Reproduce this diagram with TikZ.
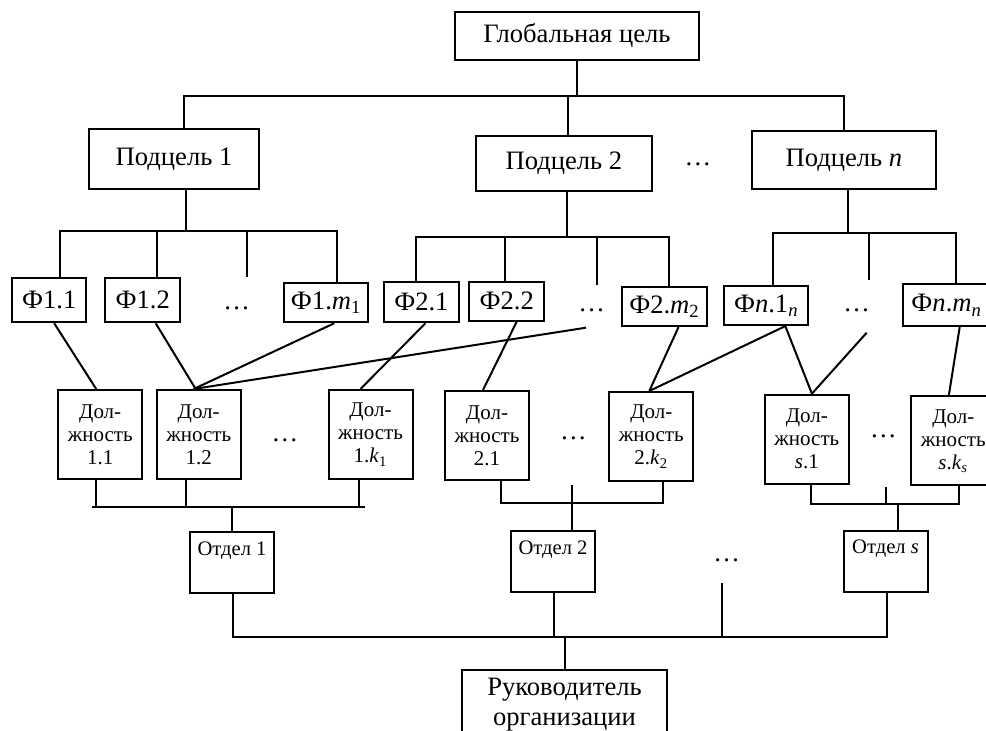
\documentclass[tikz,border=0pt]{standalone}
\usepackage{fontspec}
\setmainfont{Liberation Serif}
\usetikzlibrary{positioning, calc}
\tikzset{
  goalbox/.style={draw, inner sep=0pt, align=center, font=\fontsize{13.3}{15}\selectfont}, % goal and sub-goal boxes
  funcbox/.style={draw, inner sep=0pt, font=\fontsize{13.3}{15}\selectfont}, % functions
  postbox/.style={draw, inner sep=0pt, align=center, minimum width=42pt, minimum height=44.5pt, font=\fontsize{10.5}{11.5}\selectfont}, % posts
  deptbox/.style={draw, inner sep=0pt, minimum width=42pt, text height=11.5pt, text depth=19pt, font=\fontsize{10.3}{12}\selectfont}, % departments
  gap/.style={inner sep=0pt, font=\fontsize{13.3}{15}\selectfont}, % the dots
}

\begin{document}
\begin{tikzpicture}[x=0.5pt, y=-0.5pt, line width=1pt]
    \useasboundingbox (0,0) rectangle (986,731);
    \clip (0,0) rectangle (986,731);
    % goals
    \node[goalbox, minimum width=122.2pt, minimum height=23.8pt] (goal) at (576.9,35.8) {Глобальная цель};
    \node[goalbox, minimum width=85pt, minimum height=30pt] (sub1) at (174,159) {Подцель 1};
    \node[goalbox, minimum width=87.9pt, minimum height=27.5pt] (sub2) at (563.9,163.2) {Подцель 2};
    \node[goalbox, minimum width=92.2pt, minimum height=29.2pt] (subn) at (843.9,160.2) {Подцель \textit{n}};
    \node[gap] (subdots) at (698,164) {\dots};
    % functions
    \node[funcbox, minimum width=37.2pt, minimum height=22.3pt] (f11) at (49.2,300) {Ф1.1};
    \node[funcbox, minimum width=37.4pt, minimum height=22.3pt] (f12) at (142.7,300) {Ф1.2};
    \node[gap] (f1dots) at (236.7,308) {\dots};
    \node[funcbox, minimum width=41.9pt, minimum height=19.5pt] (f1m) at (326.2,302.8) {Ф1.\textit{m}\textsubscript{1}};
    \node[funcbox, minimum width=37.4pt, minimum height=20pt] (f21) at (421.4,302.3) {Ф2.1};
    \node[funcbox, minimum width=37.4pt, minimum height=19.5pt] (f22) at (506.7,301.2) {Ф2.2};
    \node[gap] (f2dots) at (591.7,310) {\dots};
    \node[funcbox, minimum width=42.2pt, minimum height=19.7pt] (f2m) at (664.5,306.4) {Ф2.\textit{m}\textsubscript{2}};
    \node[funcbox, minimum width=42pt, minimum height=19.7pt] (fn1) at (766.3,305.4) {Ф\textit{n}.1\textsubscript{\textit{n}}};
    \node[gap] (fndots) at (856.7,310) {\dots};
    \node[funcbox, minimum width=43.4pt, minimum height=20.9pt] (fnm) at (946.7,305.2) {Ф\textit{n}.\textit{m}\textsubscript{\textit{n}}};
    % posts
    \node[postbox] (p11) at (100.2,434.5) {Дол-\\жность\\1.1};
    \node[postbox] (p12) at (198.7,434.5) {Дол-\\жность\\1.2};
    \node[gap] (p1dots) at (285,440) {\dots};
    \node[postbox] (p1k) at (370.5,434.5) {Дол-\\жность\\1.\textit{k}\textsubscript{1}};
    \node[postbox] (p21) at (487,435.5) {Дол-\\жность\\2.1};
    \node[gap] (p2dots) at (573.3,438.3) {\dots};
    \node[postbox] (p2k) at (651.3,436.5) {Дол-\\жность\\2.\textit{k}\textsubscript{2}};
    \node[postbox] (ps1) at (806.9,439.2) {Дол-\\жность\\\textit{s}.1};
    \node[gap] (psdots) at (883.3,436.7) {\dots};
    \node[postbox] (psk) at (953.3,441) {Дол-\\жность\\\textit{s}.\textit{k}\textsubscript{\textit{s}}};
    % departments
    \node[deptbox] (o1) at (232,562.8) {Отдел 1};
    \node[deptbox] (o2) at (553,561.7) {Отдел 2};
    \node[gap] (odots) at (726.7,560) {\dots};
    \node[deptbox] (os) at (885.5,561.4) {Отдел \textit{s}};
    \node[goalbox, anchor=north, minimum width=102.2pt, text height=28pt, text depth=17pt] (head) at (564.5,669) {Руководитель\\организации};

    % goal tree
    \coordinate (t1) at (184,96);
    \coordinate (t2) at (568,96);
    \draw (sub1.north -| t1) |- (subn.north |- t1) -- (subn.north);
    \draw (goal.south) -- (goal.south |- t1);
    \draw (t2) -- (t2 |- sub2.north);
    % sub-goals to functions
    \coordinate (a1) at (185.7,231);
    \coordinate (a11) at (60,231);
    \coordinate (a12) at (157.3,231);
    \coordinate (a1d) at (247,231);
    \coordinate (a1e) at (247,276.7);
    \coordinate (a1m) at (336.7,231);
    \draw (a1 |- sub1.south) -- (a1);
    \draw (a11 |- f11.north) -- (a11) -- (a1m) -- (a1m |- f1m.north);
    \draw (a12) -- (a12 |- f12.north);
    \draw (a1d) -- (a1e);
    \coordinate (a2) at (567.3,237);
    \coordinate (a21) at (416,237);
    \coordinate (a22) at (505,237);
    \coordinate (a2d) at (597.3,237);
    \coordinate (a2e) at (597.3,285);
    \coordinate (a2m) at (669,237);
    \draw (a2 |- sub2.south) -- (a2);
    \draw (a21 |- f21.north) -- (a21) -- (a2m) -- (a2m |- f2m.north);
    \draw (a22) -- (a22 |- f22.north);
    \draw (a2d) -- (a2e);
    \coordinate (an) at (848,233);
    \coordinate (an1) at (772.7,233);
    \coordinate (and) at (869.3,233);
    \coordinate (ane) at (869.3,280);
    \coordinate (anm) at (955.7,233);
    \draw (an |- subn.south) -- (an);
    \draw (an1 |- fn1.north) -- (an1) -- (anm) -- (anm |- fnm.north);
    \draw (and) -- (ane);
    % functions to posts
    \coordinate (f2e) at (586,327.7);
    \coordinate (fne) at (866.7,332.7);
    \draw ($(f11.south)+(5,0)$) -- ($(p11.north)+(-4,0)$);
    \draw ($(f12.south)+(13,0)$) -- ($(p12.north)+(-3,0)$);
    \draw ($(f1m.south)+(8,0)$) -- ($(p12.north)+(-5,0)$);
    \draw (f2e) -- ($(p12.north)+(-5,0)$);
    \draw ($(f21.south)+(4,0)$) -- ($(p1k.north)+(-10,0)$);
    \draw ($(f22.south)+(10,0)$) -- ($(p21.north)+(-4,0)$);
    \draw ($(f2m.south)+(14,0)$) -- ($(p2k.north)+(-2,0)$);
    \draw ($(fn1.south)+(19,0)$) -- ($(p2k.north)+(-2,0)$);
    \draw ($(fn1.south)+(19,0)$) -- ($(ps1.north)+(5,0)$);
    \draw (fne) -- ($(ps1.north)+(5,0)$);
    \draw ($(fnm.south)+(13,0)$) -- ($(psk.north)+(-4.5,0)$);
    % posts to departments
    \coordinate (b1l) at (91.7,507.3);
    \coordinate (b1r) at (365,507.3);
    \coordinate (b11) at (95.7,507.3);
    \coordinate (b12) at (185.7,507.3);
    \coordinate (b1k) at (359,507.3);
    \draw (b1l) -- (b1r);
    \draw (p11.south -| b11) -- (b11);
    \draw (p12.south -| b12) -- (b12);
    \draw (p1k.south -| b1k) -- (b1k);
    \draw (o1.north) -- (o1.north |- b1l);
    \coordinate (b21) at (500.7,503.3);
    \coordinate (b2k) at (662.7,503.3);
    \coordinate (b2m) at (572.3,485);
    \draw (p21.south -| b21) |- (b2k) -- (p2k.south -| b2k);
    \draw (b2m) -- (b2m |- o2.north);
    \coordinate (bs1) at (811,504);
    \coordinate (bsk) at (959.3,504);
    \coordinate (bsm) at (885.7,486.7);
    \coordinate (bso) at (898.3,504);
    \draw (ps1.south -| bs1) |- (bsk) -- (psk.south -| bsk);
    \draw (bsm) -- (bsm |- bs1);
    \draw (bso) -- (bso |- os.north);
    % departments to head
    \coordinate (c1) at (233.3,636.7);
    \coordinate (c2) at (554,636.7);
    \coordinate (cd) at (722.3,583.3);
    \coordinate (cs) at (887.3,636.7);
    \draw (o1.south -| c1) |- (cs) -- (os.south -| cs);
    \draw (o2.south -| c2) -- (c2);
    \draw (cd) -- (cd |- c1);
    \draw (head.north |- c1) -- (head.north);
\end{tikzpicture}
\end{document}
